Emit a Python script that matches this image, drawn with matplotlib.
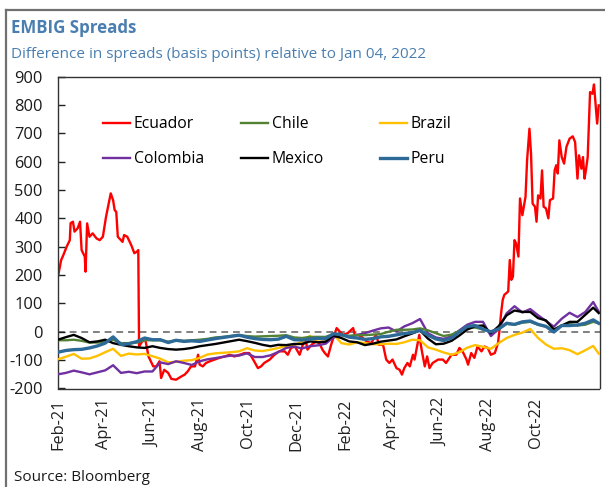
import matplotlib
matplotlib.use("Agg")
import matplotlib.pyplot as plt
import matplotlib.dates as mdates
from matplotlib.lines import Line2D
from matplotlib.legend import Legend
import pandas as pd

plt.rcParams['font.family'] = ['Open Sans', 'DejaVu Sans']

# ---------------- data ----------------
ecuador_dates = [
    "2021-02-01", "2021-02-05", "2021-02-07", "2021-02-12", "2021-02-16", "2021-02-17",
    "2021-02-20", "2021-02-22", "2021-02-26", "2021-03-01", "2021-03-03", "2021-03-07",
    "2021-03-08", "2021-03-10", "2021-03-13", "2021-03-17", "2021-03-22", "2021-03-26",
    "2021-03-30", "2021-04-03", "2021-04-09", "2021-04-12", "2021-04-14", "2021-04-16",
    "2021-04-18", "2021-04-22", "2021-04-24", "2021-04-26", "2021-04-30", "2021-05-05",
    "2021-05-09", "2021-05-12", "2021-05-14", "2021-05-15", "2021-05-19", "2021-05-23",
    "2021-05-27", "2021-06-02", "2021-06-06", "2021-06-10", "2021-06-12", "2021-06-16",
    "2021-06-21", "2021-06-25", "2021-07-01", "2021-07-08", "2021-07-12", "2021-07-16",
    "2021-07-20", "2021-07-25", "2021-07-29", "2021-07-31", "2021-08-04", "2021-08-08",
    "2021-08-13", "2021-08-19", "2021-08-25", "2021-09-01", "2021-09-07", "2021-09-13",
    "2021-09-20", "2021-09-26", "2021-10-02", "2021-10-07", "2021-10-13", "2021-10-17",
    "2021-10-21", "2021-10-28", "2021-11-03", "2021-11-09", "2021-11-16", "2021-11-20",
    "2021-11-24", "2021-11-29", "2021-12-05", "2021-12-09", "2021-12-13", "2021-12-15",
    "2021-12-20", "2021-12-26", "2021-12-30", "2022-01-03", "2022-01-06", "2022-01-10",
    "2022-01-14", "2022-01-21", "2022-01-25", "2022-01-29", "2022-02-04", "2022-02-11",
    "2022-02-13", "2022-02-17", "2022-02-21", "2022-02-28", "2022-03-06", "2022-03-12",
    "2022-03-16", "2022-03-21", "2022-03-25", "2022-03-29", "2022-04-02", "2022-04-07",
    "2022-04-11", "2022-04-14", "2022-04-17", "2022-04-21", "2022-04-24", "2022-04-28",
    "2022-04-30", "2022-05-04", "2022-05-06", "2022-05-09", "2022-05-13", "2022-05-16",
    "2022-05-19", "2022-05-23", "2022-05-30", "2022-06-05", "2022-06-09", "2022-06-16",
    "2022-06-22", "2022-06-26", "2022-06-28", "2022-06-30", "2022-07-05", "2022-07-07",
    "2022-07-11", "2022-07-15", "2022-07-19", "2022-07-24", "2022-07-28", "2022-08-01",
    "2022-08-05", "2022-08-10", "2022-08-14", "2022-08-16", "2022-08-18", "2022-08-20",
    "2022-08-22", "2022-08-27", "2022-08-29", "2022-08-31", "2022-09-02", "2022-09-04",
    "2022-09-06", "2022-09-09", "2022-09-11", "2022-09-14", "2022-09-18", "2022-09-20",
    "2022-09-23", "2022-09-25", "2022-09-27", "2022-09-30", "2022-10-02", "2022-10-04",
    "2022-10-07", "2022-10-09", "2022-10-11", "2022-10-14", "2022-10-17", "2022-10-19",
    "2022-10-23", "2022-10-25", "2022-10-27", "2022-10-29", "2022-10-31", "2022-11-03",
    "2022-11-06", "2022-11-09", "2022-11-13", "2022-11-17", "2022-11-20", "2022-11-23",
    "2022-11-25", "2022-11-28", "2022-11-30", "2022-12-02", "2022-12-04", "2022-12-06",
    "2022-12-09", "2022-12-12", "2022-12-14", "2022-12-16", "2022-12-18", "2022-12-20",
]
ecuador = [
    195, 253, 265, 300, 323, 383,
    388, 353, 365, 388, 288, 265,
    212, 382, 335, 347, 329, 323,
    335, 405, 488, 464, 429, 423,
    335, 323, 317, 341, 335, 306,
    277, 282, 288, -52, -34, -28,
    -87, -122, -122, -104, -163, -134,
    -145, -166, -169, -157, -151, -139,
    -122, -122, -81, -116, -122, -110,
    -104, -98, -92, -87, -81, -87,
    -81, -75, -75, -98, -128, -122,
    -110, -98, -81, -69, -69, -81,
    -57, -52, -81, -46, -34, -63,
    -46, -34, -40, -63, -75, -87,
    -46, 13, 1, -11, -5, 13,
    -11, -11, -16, -34, -40, -11,
    -46, -46, -98, -110, -98, -128,
    -134, -151, -128, -110, -122, -81,
    -98, -40, -11, -63, -122, -87,
    -128, -110, -98, -98, -110, -81,
    -81, -57, -63, -69, -98, -116,
    -75, -92, -52, -69, -52, -57,
    -81, -75, -40, 7, 66, 112,
    130, 142, 253, 183, 194, 323,
    312, 265, 470, 411, 476, 605,
    716, 628, 452, 441, 388, 481,
    470, 569, 441, 435, 400, 464,
    470, 569, 587, 558, 675, 616,
    593, 652, 681, 689, 669, 540,
    622, 575, 616, 540, 575, 616,
    845, 839, 872, 804, 734, 798,
]

# common 10-day observation grid for the other five countries, plus last obs
grid_dates = list(pd.date_range("2021-02-01", periods=69, freq="10D")) + [pd.Timestamp("2022-12-20")]

chile = [
    -30, -30, -28, -32, -38, -38, -35, -28, -40, -40, -38, -30, -30, -30, -35, -30, -32, -30,
    -28, -25, -20, -18, -15, -12, -15, -17, -16, -15, -14, -12, -20, -22, -18, -18, -18,
    -8, -12, -14, -12, -12, -10, -8, 0, 7, 7, 8, 12, 5, -5, -15, -10, 3,
    12, 15, 8, 0, 10, 28, 25, 32, 35, 25, 18, 5, 22, 28, 22, 25, 35, 30,
]
brazil = [
    -97, -88, -78, -95, -94, -85, -72, -60, -85, -77, -80, -78, -86, -95, -108, -106, -102, -100,
    -92, -80, -76, -74, -72, -69, -58, -66, -68, -63, -57, -50, -48, -35, -15, -35, -35,
    -9, -40, -45, -37, -40, -44, -44, -42, -43, -37, -28, -30, -55, -63, -73, -81, -72,
    -56, -47, -53, -60, -40, -22, -11, -3, 10, -22, -45, -60, -58, -65, -79, -65, -50, -77,
]
colombia = [
    -150, -145, -137, -143, -150, -143, -136, -118, -145, -141, -146, -140, -140, -108, -114, -104, -110, -117,
    -104, -97, -93, -88, -84, -84, -76, -89, -89, -83, -71, -57, -52, -59, -51, -48, -42,
    -20, -11, -17, -11, -5, 4, 12, 15, 1, 19, 30, 45, -5, -20, -25, -16, 5,
    25, 35, 35, -15, 10, 65, 90, 68, 80, 58, 38, 18, 46, 67, 52, 70, 105, 71,
]
mexico = [
    -28, -19, -11, -22, -37, -34, -28, -40, -46, -51, -55, -57, -51, -57, -61, -63, -61, -57,
    -51, -47, -43, -38, -33, -28, -33, -39, -46, -51, -46, -47, -43, -43, -34, -37, -35,
    -13, -22, -34, -37, -47, -42, -35, -31, -27, -16, -6, 5, -24, -44, -42, -32, -13,
    8, 20, 22, -5, 20, 58, 75, 70, 70, 48, 40, 8, 22, 35, 35, 60, 85, 66,
]
peru = [
    -72, -66, -63, -62, -57, -50, -40, -18, -45, -42, -35, -22, -28, -28, -38, -30, -34, -32,
    -34, -29, -24, -20, -16, -12, -19, -24, -27, -28, -26, -16, -28, -29, -26, -23, -24,
    -7, -10, -19, -22, -27, -24, -18, -16, -11, -6, -3, 5, -12, -25, -31, -22, 0,
    19, 22, 9, 0, 10, 30, 26, 35, 38, 26, 19, -1, 22, 22, 24, 30, 42, 30,
]

tick_dates = ["2021-02-01", "2021-04-01", "2021-06-01", "2021-08-01", "2021-10-01", "2021-12-01",
              "2022-02-01", "2022-04-01", "2022-06-01", "2022-08-01", "2022-10-01"]
y_ticks = [-200, -100, 0, 100, 200, 300, 400, 500, 600, 700, 800, 900]

title = "EMBIG Spreads"
subtitle = "Difference in spreads (basis points) relative to Jan 04, 2022"
source = "Source: Bloomberg"

# ---------------- styling ----------------
C_ECU = "#FF0000"
C_CHL = "#548235"
C_BRA = "#FFC000"
C_COL = "#7030A0"
C_MEX = "#000000"
C_PER = "#2E6A98"
C_TITLE = "#4A7EB0"

W, H = 605, 487
fig = plt.figure(figsize=(W / 100, H / 100), dpi=100)
ax = fig.add_axes([58 / W, (H - 388.5) / H, (599.5 - 58) / W, (388.5 - 76.5) / H])

ecu_d = pd.to_datetime(ecuador_dates)
lw = 1.7
ax.axhline(0, color="#808080", lw=1.4, ls=(0, (3.5, 2.5)), zorder=1)
ax.plot(ecu_d, ecuador, color=C_ECU, lw=lw, zorder=2)
ax.plot(grid_dates, brazil, color=C_BRA, lw=lw, zorder=3)
ax.plot(grid_dates, colombia, color=C_COL, lw=lw, zorder=4)
ax.plot(grid_dates, chile, color=C_CHL, lw=lw, zorder=5)
ax.plot(grid_dates, mexico, color=C_MEX, lw=lw, zorder=6)
ax.plot(grid_dates, peru, color=C_PER, lw=2.4, zorder=7)

ax.set_ylim(-200, 900)
ax.set_xlim(pd.Timestamp("2021-02-01"), pd.Timestamp("2022-12-21"))
ax.set_yticks(y_ticks)
ax.set_yticklabels([str(v) for v in y_ticks])
ax.set_xticks(pd.to_datetime(tick_dates))
ax.xaxis.set_major_formatter(mdates.DateFormatter("%b-%y"))
ax.tick_params(axis="y", direction="in", length=5, width=1, pad=11, labelsize=11.8, colors="#222222")
ax.tick_params(axis="x", length=0, pad=7, labelsize=11.8, labelrotation=90, colors="#222222")
for lab in ax.get_yticklabels():
    lab.set_color("#1a1a1a")
for s in ax.spines.values():
    s.set_color("#333333")
    s.set_linewidth(1.0)

# legend: three columns, placed separately
def leg(labels, styles, x):
    handles = [Line2D([0], [0], color=c, lw=w) for c, w in styles]
    lg = Legend(ax, handles, labels, loc="upper left", bbox_to_anchor=(x, 0.872),
                frameon=False, fontsize=11.3, handlelength=1.75, handletextpad=0.2,
                labelspacing=1.2, borderpad=0, borderaxespad=0)
    ax.add_artist(lg)
    return lg

leg(["Ecuador", "Colombia"], [(C_ECU, lw), (C_COL, lw)], (103 - 58) / 541.5)
leg(["Chile", "Mexico"], [(C_CHL, lw), (C_MEX, lw)], (241 - 58) / 541.5)
leg(["Brazil", "Peru"], [(C_BRA, lw), (C_PER, 2.4)], (380 - 58) / 541.5)

# titles and source
fig.text(11 / W, 1 - 33 / H, title, fontsize=12.2, fontweight="bold", color=C_TITLE, va="baseline")
fig.text(11 / W, 1 - 58 / H, subtitle, fontsize=11.0, color=C_TITLE, va="baseline")
fig.text(14 / W, 1 - 481 / H, source, fontsize=11.0, color="#1a1a1a", va="baseline")

# figure frame (top and left)
fig.add_artist(Line2D([6 / W, 6 / W], [0, 1 - 10 / H], transform=fig.transFigure, color="#707070", lw=1.6))
fig.add_artist(Line2D([6 / W, 1], [1 - 10 / H, 1 - 10 / H], transform=fig.transFigure, color="#707070", lw=1.6))

fig.savefig("out.png", dpi=100)
